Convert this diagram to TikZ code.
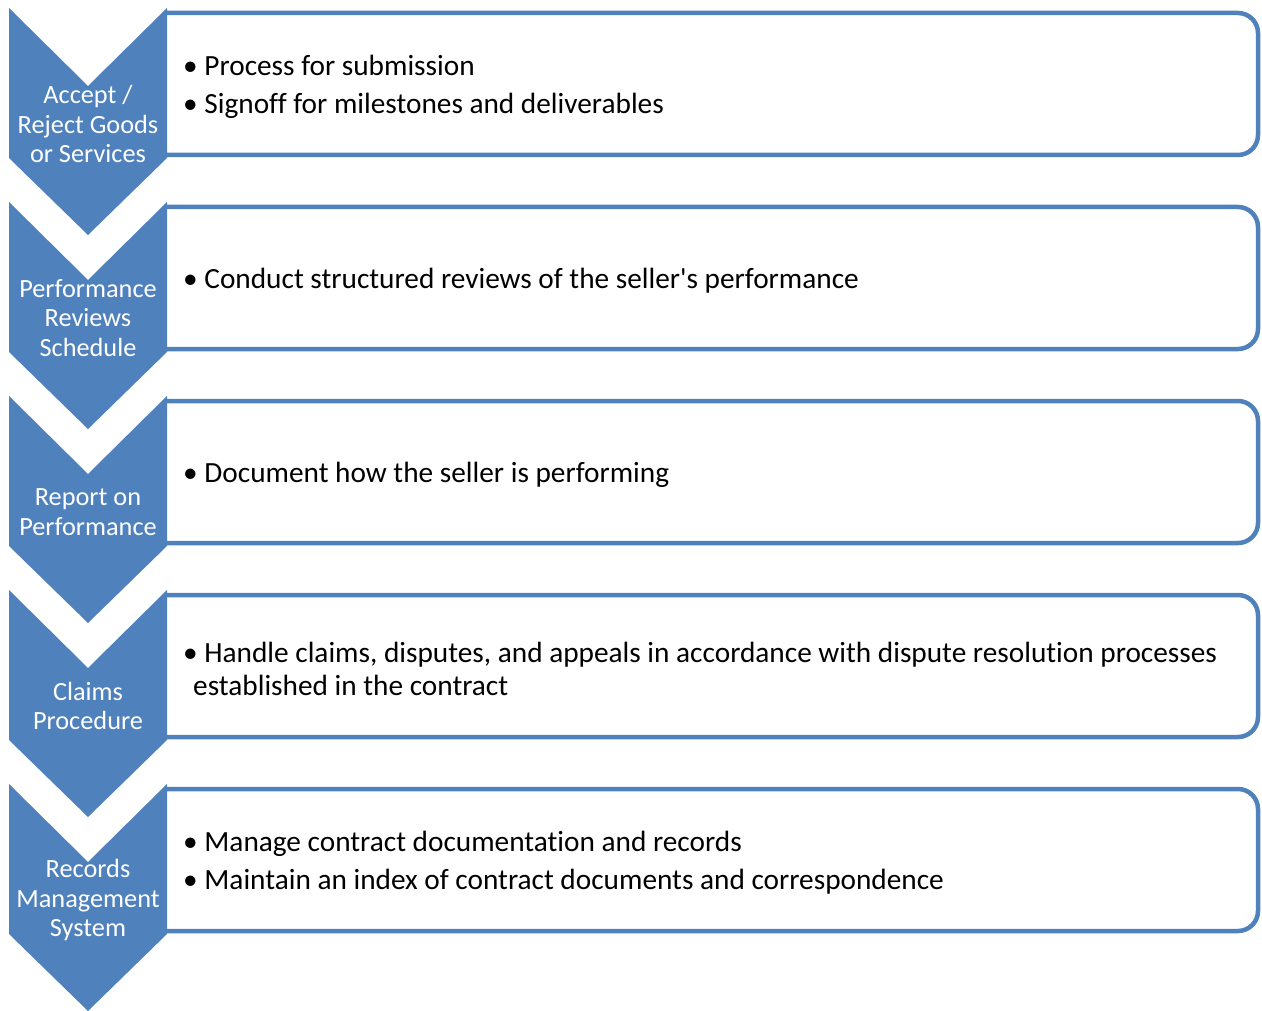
\documentclass[tikz,border=0pt]{standalone}
\usepackage{fontspec}
\newfontfamily\calibri{Carlito}[Ligatures=NoCommon]
\definecolor{chevblue}{HTML}{4F81BD}
\tikzset{
  chevron/.style={fill=chevblue},
  stagelabel/.style={text=white, align=center, inner sep=0pt,
    font=\calibri\fontsize{26.3}{29.5}\selectfont},
  detailbox/.style={draw=chevblue, line width=4.5pt, rounded corners=20pt},
  detailtext/.style={anchor=west, align=left, inner sep=0pt,
    font=\calibri\fontsize{29.3}{38}\selectfont}
}
\begin{document}
\begin{tikzpicture}[x=1pt,y=-1pt]
\useasboundingbox (0,0) rectangle (1262,1011);
\foreach \t/\lbl/\txt [count=\i] in {
  8/{Accept /\\Reject Goods\\or Services}/{\textbullet\ Process for submission\\\textbullet\ Signoff for milestones and deliverables},
  202/{Performance\\Reviews\\Schedule}/{\textbullet\ Conduct structured reviews of the seller's performance},
  396/{Report on\\Performance}/{\textbullet\ Document how the seller is performing},
  590/{Claims\\Procedure}/{\textbullet\ Handle claims, disputes, and appeals in accordance with dispute resolution processes\\[-5pt]\hspace*{10pt}established in the contract},
  784/{Records\\Management\\System}/{\textbullet\ Manage contract documentation and records\\\textbullet\ Maintain an index of contract documents and correspondence}}{
	\draw[detailbox] (166,\t+5) -- (1258,\t+5) -- (1258,\t+147) -- (166,\t+147);
	\fill[chevron] (9,\t) -- (88,\t+78) -- (167,\t) -- (167,\t+150) -- (88,\t+227) -- (9,\t+150) -- cycle;
	\node[stagelabel] (stage\i) at (88,\t+116) {\lbl};
	\node[detailtext] (detail\i) at (183,\t+79) {\txt};}
\end{tikzpicture}
\end{document}
